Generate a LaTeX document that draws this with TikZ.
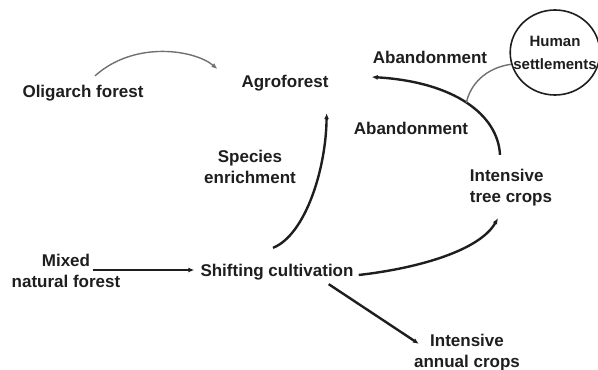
\documentclass[tikz,border=0pt]{standalone}
\usepackage{fontspec}
\setmainfont{Liberation Sans}
\usetikzlibrary{arrows.meta,shapes.geometric}
\definecolor{ink}{HTML}{1E1E1E}
\definecolor{wire}{HTML}{707070}
\tikzset{>={Latex[length=6pt,width=5pt]},lbl/.style={font=\bfseries\fontsize{17}{21}\selectfont,text=ink,align=center,inner sep=1pt},flow/.style={->,line width=2.4pt,draw=ink},soft/.style={line width=1.4pt,draw=wire},settle/.style={ellipse,draw=ink,line width=1.6pt,minimum width=88pt,minimum height=85pt,inner xsep=-10pt,inner ysep=0pt,align=center,font=\bfseries\fontsize{15}{23}\selectfont,text=ink}}

\begin{document}
\begin{tikzpicture}[x=1pt,y=-1pt]
\useasboundingbox (0,0) rectangle (598,370);
\node[lbl] (oli) at (83,93) {Oligarch forest};
\node[lbl] (agro) at (285,83) {Agroforest};
\node[lbl] (aband1) at (430,57) {Abandonment};
\node[lbl] (aband2) at (411,128) {Abandonment};
\node[lbl] (spec) at (250,167) {Species\\enrichment};
\node[lbl,align=left] (tree) at (511,188) {Intensive\\tree crops};
\node[lbl] (mixed) at (66,271) {Mixed\\natural forest};
\node[lbl] (shift) at (277,272) {Shifting cultivation};
\node[lbl] (annual) at (467,353) {Intensive\\annual crops};
\node[settle] (human) at (555,52.5) {Human\\settlements};
% links
\draw[soft,->] ([xshift=12pt,yshift=8pt]oli.north) .. controls (135,40) and (195,50) .. ([xshift=-23pt,yshift=14pt]agro.west);
\draw[flow,line width=2pt] ([xshift=-29pt,yshift=1pt]mixed.east) -- ([xshift=-5pt,yshift=2pt]shift.west);
\draw[flow] ([xshift=-4pt,yshift=15pt]shift.north) .. controls (305,235) and (326,170) .. ([xshift=-3pt,yshift=-21pt]agro.south east);
\draw[flow] ([xshift=4pt,yshift=-3pt]shift.east) .. controls (420,268) and (480,250) .. ([xshift=-13pt,yshift=-10.5pt]tree.south);
\draw[flow] ([xshift=-26pt,yshift=-3pt]shift.south east) -- ([xshift=6pt,yshift=-10.5pt]annual.north west);
\draw[flow] ([xshift=-11pt,yshift=13.5pt]tree.north) .. controls (498,115) and (455,82) .. ([xshift=42pt,yshift=6pt]agro.east) coordinate[pos=.5] (hit);
\draw[soft] (human.195) .. controls (485,68) and (470,85) .. (hit);
\end{tikzpicture}
\end{document}
